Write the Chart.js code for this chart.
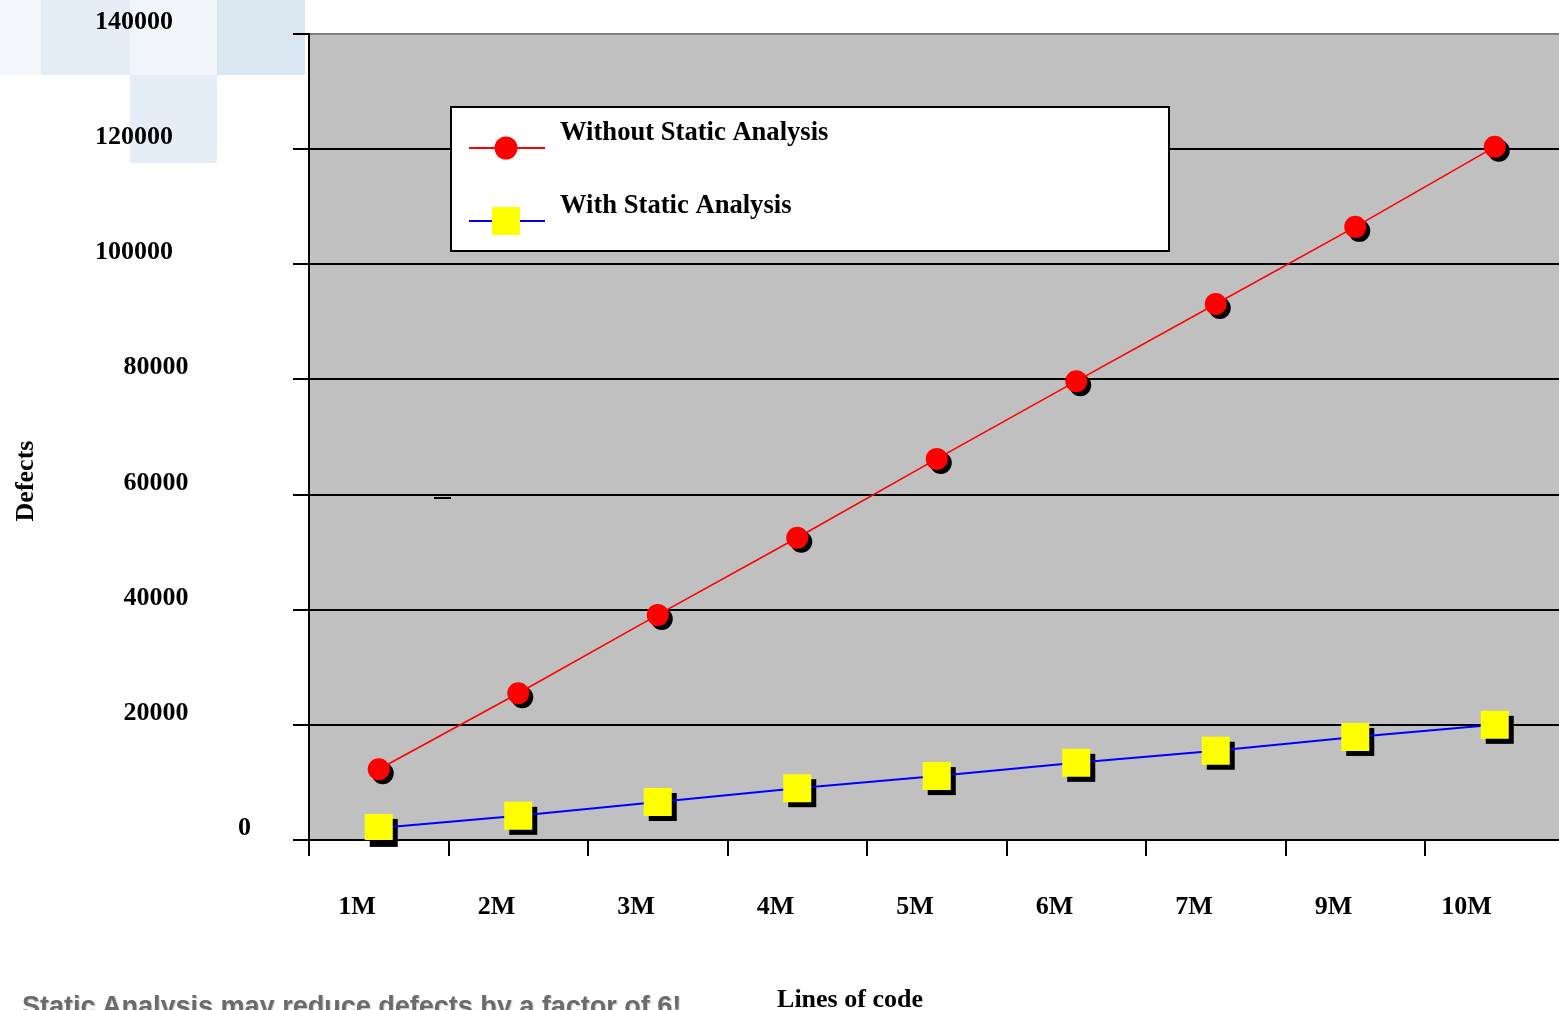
<!DOCTYPE html>
<html>
<head>
<meta charset="utf-8">
<title>Defects vs Lines of code</title>
<script src="https://cdn.jsdelivr.net/npm/chart.js@4.4.0/dist/chart.umd.min.js"></script>
<style>
  html, body { margin: 0; padding: 0; width: 1559px; height: 1010px; overflow: hidden; background: #fff; }
  .deco { position: absolute; }
  #chart { position: absolute; left: 0; top: 0; z-index: 2; }
  #caption {
    position: absolute; left: 22px; top: 993px; z-index: 3;
    font: bold 27px "Liberation Sans", Arial, sans-serif; line-height: 27px;
    color: #6b6b6b; text-shadow: 1px 1px 1px #c8c8c8; white-space: nowrap;
  }
</style>
</head>
<body>
<!-- slide template squares, top left -->
<div class="deco" style="left:0;top:0;width:41px;height:75px;background:#f3f7fb"></div>
<div class="deco" style="left:41px;top:0;width:89px;height:75px;background:#e5edf6"></div>
<div class="deco" style="left:130px;top:0;width:87px;height:75px;background:#f2f6fa"></div>
<div class="deco" style="left:217px;top:0;width:88px;height:75px;background:#dae6f0"></div>
<div class="deco" style="left:130px;top:75px;width:87px;height:88px;background:#e5edf6"></div>

<canvas id="chart" width="1600" height="1010"></canvas>
<div id="caption">Static Analysis may reduce defects by a factor of 6!</div>

<script>
// Data
const linesOfCode = ['1M', '2M', '3M', '4M', '5M', '6M', '7M', '9M', '10M'];
const withoutStatic = [12300, 25500, 39100, 52500, 66200, 79700, 93100, 106500, 120400];
const withStatic = [2100, 4200, 6600, 9000, 11100, 13400, 15500, 17900, 20000];
const yTicks = [0, 20000, 40000, 60000, 80000, 100000, 120000, 140000];

const serif = '"Liberation Serif", "Times New Roman", serif';
const labelFont = 'bold 26px ' + serif;

// Gray plot background
const plotBackground = {
    id: 'plotBackground',
    beforeDraw(chart) {
        const { ctx, chartArea } = chart;
        ctx.save();
        ctx.fillStyle = '#c0c0c0';
        ctx.fillRect(chartArea.left, chartArea.top, chartArea.right - chartArea.left, chartArea.bottom - chartArea.top);
        ctx.restore();
    }
};

// Black drop shadow under every marker
const markerShadows = {
    id: 'markerShadows',
    beforeDatasetDraw(chart, args) {
        const ds = chart.data.datasets[args.index];
        const ctx = chart.ctx;
        ctx.save();
        ctx.fillStyle = '#000';
        args.meta.data.forEach(pt => {
            if (ds.pointStyle === 'rect') {
                ctx.fillRect(pt.x - 14 + 5, pt.y - 14 + 5, 28, 28);
            } else {
                ctx.beginPath();
                ctx.arc(pt.x + 4, pt.y + 4, 11, 0, Math.PI * 2);
                ctx.fill();
            }
        });
        ctx.restore();
    }
};

// Y tick labels, legend box and axis titles
const decorations = {
    id: 'decorations',
    afterDatasetsDraw(chart) {
        const { ctx, chartArea } = chart;
        const yScale = chart.scales.y;
        ctx.save();

        // y labels, padded like the original
        ctx.font = labelFont;
        ctx.fillStyle = '#000';
        ctx.textAlign = 'right';
        ctx.textBaseline = 'alphabetic';
        yScale.ticks.forEach(t => {
            const txt = String(t.value);
            const y = yScale.getPixelForValue(t.value);
            ctx.fillText(txt, 173 + (6 - txt.length) * 15.6, y - 5);
        });

        // stray dash
        ctx.strokeStyle = '#000';
        ctx.lineWidth = 2;
        ctx.beginPath();
        ctx.moveTo(434, 498);
        ctx.lineTo(451, 498);
        ctx.stroke();

        // legend
        const lx = chartArea.left + 142, ly = chartArea.top + 73, lw = 718, lh = 144;
        ctx.fillStyle = '#fff';
        ctx.fillRect(lx, ly, lw, lh);
        ctx.strokeStyle = '#000';
        ctx.lineWidth = 2;
        ctx.strokeRect(lx, ly, lw, lh);
        chart.data.datasets.forEach((ds, i) => {
            const cy = ly + 41 + i * 73;
            ctx.strokeStyle = ds.borderColor;
            ctx.lineWidth = 2;
            ctx.beginPath();
            ctx.moveTo(lx + 18, cy);
            ctx.lineTo(lx + 94, cy);
            ctx.stroke();
            ctx.fillStyle = ds.pointBackgroundColor;
            if (ds.pointStyle === 'rect') {
                ctx.fillRect(lx + 41, cy - 14, 28, 28);
            } else {
                ctx.beginPath();
                ctx.arc(lx + 55, cy, 11.5, 0, Math.PI * 2);
                ctx.fill();
            }
            ctx.fillStyle = '#000';
            ctx.textAlign = 'left';
            ctx.font = 'bold 26.6px ' + serif;
            ctx.fillText(ds.label, lx + 109, cy - 8);
        });

        // axis titles
        ctx.fillStyle = '#000';
        ctx.font = labelFont;
        ctx.textAlign = 'center';
        ctx.fillText('Lines of code', 850, 1007);
        ctx.translate(33, 481);
        ctx.rotate(-Math.PI / 2);
        ctx.fillText('Defects', 0, 0);
        ctx.restore();
    }
};

new Chart(document.getElementById('chart').getContext('2d'), {
    type: 'line',
    data: {
        labels: linesOfCode,
        datasets: [{
            label: 'Without Static Analysis',
            data: withoutStatic,
            borderColor: '#ff0000',
            borderWidth: 1.6,
            pointStyle: 'circle',
            pointRadius: 11,
            pointBackgroundColor: '#ff0000',
            pointBorderWidth: 0,
            tension: 0
        }, {
            label: 'With Static Analysis',
            data: withStatic,
            borderColor: '#0000ff',
            borderWidth: 2,
            pointStyle: 'rect',
            pointRadius: 19.8,
            pointBackgroundColor: '#ffff00',
            pointBorderWidth: 0,
            tension: 0
        }]
    },
    options: {
        responsive: false,
        animation: false,
        events: [],
        layout: { padding: { top: 34, right: 35.5, left: 0, bottom: 0 } },
        plugins: {
            legend: { display: false },
            tooltip: { enabled: false }
        },
        scales: {
            x: {
                offset: true,
                afterFit(scale) { scale.height = 170; },
                grid: {
                    offset: true,
                    drawOnChartArea: false,
                    color: '#000',
                    lineWidth: 2,
                    tickLength: 16
                },
                border: { color: '#000', width: 2 },
                ticks: {
                    align: 'end',
                    labelOffset: -3,
                    autoSkip: false,
                    maxRotation: 0,
                    padding: 36,
                    color: '#000',
                    font: { family: serif, size: 26, weight: 'bold' }
                }
            },
            y: {
                min: 0,
                max: 140000,
                afterFit(scale) { scale.width = 309; },
                afterBuildTicks(scale) { scale.ticks = yTicks.map(v => ({ value: v })); },
                grid: {
                    color: ctx => (ctx.tick && ctx.tick.value === 140000) ? '#808080' : '#000',
                    tickColor: '#000',
                    lineWidth: 2,
                    tickLength: 16
                },
                border: { color: '#000', width: 2 },
                ticks: { display: false }
            }
        }
    },
    plugins: [plotBackground, markerShadows, decorations]
});
</script>
</body>
</html>
